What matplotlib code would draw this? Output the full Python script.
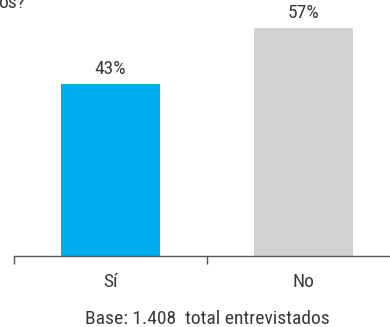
import matplotlib.pyplot as plt

plt.rcParams['font.family'] = ['Roboto Condensed', 'Liberation Sans', 'DejaVu Sans']

categories = ['Sí', 'No']
values = [43, 57]
colors = ['#00AEEF', '#D1D2D4']
text_color = '#3a3a3a'

fig = plt.figure(figsize=(3.9, 3.27), dpi=100)
ax = fig.add_axes([14 / 390, 71 / 327, 386 / 390, 256 / 327])

x = range(len(categories))
ax.bar(x, values, width=0.508, color=colors)
for xi, v in zip(x, values):
    ax.text(xi, v + 1.6, '{}%'.format(v), ha='center', va='bottom',
            fontsize=14, color=text_color)

ax.set_xlim(-0.5, 1.5)
ax.set_ylim(0, 64)
ax.set_xticks([-0.5, 0.5], minor=False)
ax.set_xticklabels([])
ax.set_xticks(list(x), minor=True)
ax.set_xticklabels(categories, minor=True, fontsize=14, color=text_color)
ax.tick_params(axis='x', which='major', length=6, width=1, color='#555555', direction='out')
ax.tick_params(axis='x', which='minor', length=0, pad=12)
ax.set_yticks([])
for s in ['top', 'right', 'left']:
    ax.spines[s].set_visible(False)
ax.spines['bottom'].set_color('#555555')
ax.spines['bottom'].set_linewidth(1)

fig.text(207 / 390, 8 / 327, 'Base: 1.408  total entrevistados', ha='center',
         va='center', fontsize=14, color=text_color)
# cropped title fragment
fig.text(-2 / 390, 1 + 6 / 327, 'os?', ha='left', va='top', fontsize=14, color=text_color)

fig.savefig('out.png', dpi=100)
